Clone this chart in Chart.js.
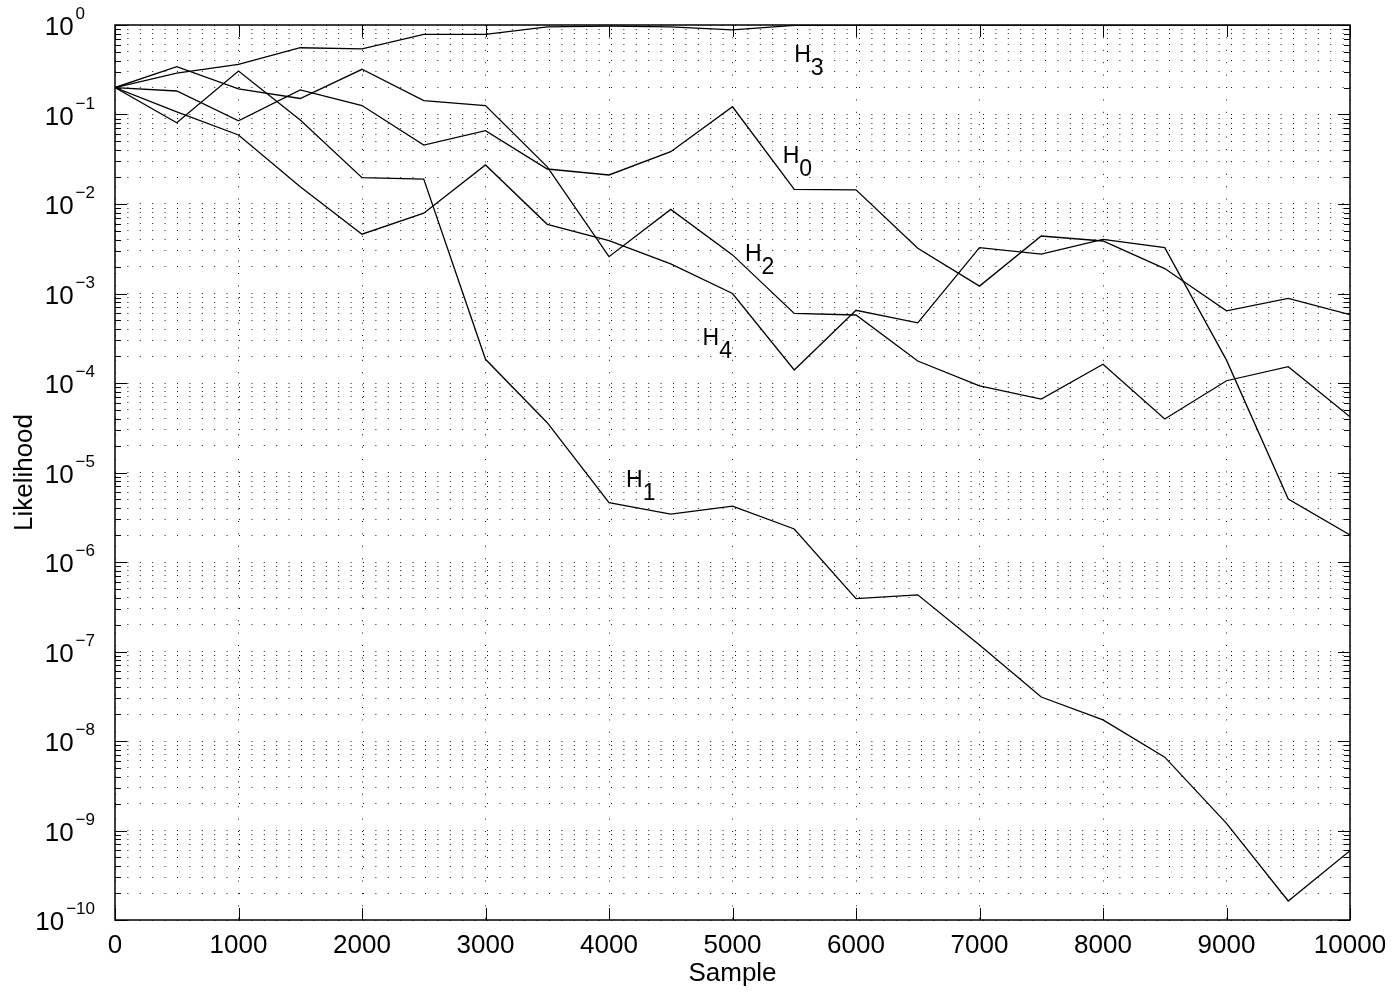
<!DOCTYPE html>
<html lang="en">
<head>
    <meta charset="UTF-8">
    <title>Hypothesis likelihood</title>
    <script src="https://cdn.jsdelivr.net/npm/chart.js"></script>
    <style>
        html, body { margin: 0; padding: 0; background: #fff; }
        #wrap { width: 1396px; height: 993px; }
    </style>
</head>
<body>
    <div id="wrap"><canvas id="likelihoodChart"></canvas></div>

    <script>
        // samples at which the likelihood of each hypothesis was evaluated
        const samples = [0, 500, 1000, 1500, 2000, 2500, 3000, 3500, 4000, 4500, 5000,
                         5500, 6000, 6500, 7000, 7500, 8000, 8500, 9000, 9500, 10000];

        const h0 = [0.2, 0.183, 0.085, 0.188, 0.126, 0.0456, 0.066, 0.0246, 0.0211, 0.0384, 0.122,
                    0.0146, 0.0144, 0.0032, 0.00121, 0.00439, 0.00386, 0.0019, 0.00064, 0.00088, 0.00058];
        const h1 = [0.2, 0.081, 0.306, 0.087, 0.0197, 0.019, 1.84e-4, 3.6e-5, 4.6e-6, 3.43e-6, 4.2e-6,
                    2.34e-6, 3.9e-7, 4.3e-7, 1.18e-7, 3.1e-8, 1.72e-8, 6.6e-9, 1.2e-9, 1.63e-10, 5.95e-10];
        const h2 = [0.2, 0.342, 0.193, 0.151, 0.32, 0.143, 0.126, 0.026, 0.00258, 0.0087, 0.0027,
                    0.0006, 0.000575, 0.000176, 9.3e-5, 6.6e-5, 1.62e-4, 3.96e-5, 1.06e-4, 1.52e-4, 4.2e-5];
        const h3 = [0.2, 0.29, 0.364, 0.557, 0.54, 0.787, 0.787, 0.955, 0.97, 0.955, 0.88,
                    0.99, 1, 1, 1, 1, 1, 1, 1, 1, 1];
        const h4 = [0.2, 0.107, 0.059, 0.0156, 0.0046, 0.0079, 0.0273, 0.00593, 0.0039, 0.00214, 0.001,
                    0.00014, 0.00065, 0.00047, 0.00325, 0.00276, 0.00403, 0.00325, 0.00018, 5.06e-6, 2.0e-6];

        const xTicks = [0, 1000, 2000, 3000, 4000, 5000, 6000, 7000, 8000, 9000, 10000];
        const yExponents = [0, -1, -2, -3, -4, -5, -6, -7, -8, -9, -10];

        // curve names, anchored in data units (sample, likelihood)
        const curveLabels = [
            { name: 'H', sub: '3', x: 5500, y: 0.389 },
            { name: 'H', sub: '0', x: 5406, y: 0.0285 },
            { name: 'H', sub: '2', x: 5101, y: 0.00229 },
            { name: 'H', sub: '4', x: 4758, y: 2.66e-4 },
            { name: 'H', sub: '1', x: 4138, y: 6.94e-6 }
        ];

        const FONT = '"Liberation Sans", Arial, Helvetica, sans-serif';

        function isDecade(v) {
            const l = Math.log10(v);
            return Math.abs(l - Math.round(l)) < 1e-6;
        }

        // box, inward ticks, tick labels, axis titles and curve names
        const axesDecor = {
            id: 'axesDecor',
            afterDraw(chart) {
                const { ctx, chartArea: a, scales: { x, y } } = chart;
                ctx.save();
                ctx.strokeStyle = '#000';
                ctx.lineWidth = 1.5;
                ctx.strokeRect(a.left, a.top, a.right - a.left, a.bottom - a.top);

                ctx.lineWidth = 1;
                ctx.beginPath();
                xTicks.forEach(v => {
                    const px = Math.round(x.getPixelForValue(v)) + 0.5;
                    ctx.moveTo(px, a.bottom); ctx.lineTo(px, a.bottom - 12);
                    ctx.moveTo(px, a.top); ctx.lineTo(px, a.top + 12);
                });
                y.ticks.forEach(t => {
                    const len = isDecade(t.value) ? 12 : 6;
                    const py = Math.round(y.getPixelForValue(t.value)) + 0.5;
                    ctx.moveTo(a.left, py); ctx.lineTo(a.left + len, py);
                    ctx.moveTo(a.right, py); ctx.lineTo(a.right - len, py);
                });
                ctx.stroke();

                ctx.fillStyle = '#000';
                ctx.textBaseline = 'alphabetic';

                // x tick labels
                ctx.font = '26px ' + FONT;
                ctx.textAlign = 'center';
                xTicks.forEach(v => {
                    ctx.fillText(String(v), x.getPixelForValue(v), a.bottom + 33);
                });

                // y tick labels as 10 with a raised exponent
                const supFont = '17px ' + FONT;
                ctx.font = supFont;
                const minSup = ctx.measureText('\u22121').width;
                yExponents.forEach(e => {
                    const py = y.getPixelForValue(Math.pow(10, e));
                    const sup = e < 0 ? '\u2212' + Math.abs(e) : String(e);
                    ctx.font = supFont;
                    const supW = Math.max(ctx.measureText(sup).width, minSup);
                    const right = a.left - 20;
                    ctx.textAlign = 'left';
                    ctx.fillText(sup, right - supW, py - 6);
                    ctx.font = '26px ' + FONT;
                    ctx.textAlign = 'right';
                    ctx.fillText('10', right - supW - 2, py + 10);
                });

                // axis titles
                ctx.font = '26px ' + FONT;
                ctx.textAlign = 'center';
                ctx.fillText('Sample', (a.left + a.right) / 2, 981);
                ctx.save();
                ctx.translate(32, (a.top + a.bottom) / 2);
                ctx.rotate(-Math.PI / 2);
                ctx.fillText('Likelihood', 0, 0);
                ctx.restore();

                // curve names with subscripts
                ctx.font = '23px ' + FONT;
                ctx.textAlign = 'left';
                const hW = ctx.measureText('H').width;
                curveLabels.forEach(l => {
                    const px = x.getPixelForValue(l.x);
                    const py = y.getPixelForValue(l.y);
                    ctx.fillText(l.name, px, py);
                    ctx.fillText(l.sub, px + hW, py + 13);
                });
                ctx.restore();
            }
        };

        function series(values) {
            return {
                data: samples.map((s, i) => ({ x: s, y: values[i] })),
                borderColor: '#000',
                borderWidth: 1.3,
                pointRadius: 0,
                tension: 0,
                fill: false
            };
        }

        const gridStyle = { color: '#1a1a1a', lineWidth: 1, drawTicks: false };
        const dotted = { display: false, dash: [1, 11.4] };

        const ctx = document.getElementById('likelihoodChart').getContext('2d');
        new Chart(ctx, {
            type: 'line',
            data: {
                datasets: [series(h0), series(h1), series(h2), series(h3), series(h4)]
            },
            options: {
                responsive: true,
                maintainAspectRatio: false,
                animation: false,
                layout: { padding: { top: 25, right: 46, left: 0, bottom: 0 } },
                plugins: {
                    legend: { display: false },
                    tooltip: { enabled: false }
                },
                scales: {
                    x: {
                        type: 'linear',
                        min: 0,
                        max: 10000,
                        ticks: { display: false, stepSize: 1000 },
                        grid: gridStyle,
                        border: dotted,
                        afterFit(scale) { scale.height = 73; }
                    },
                    y: {
                        type: 'logarithmic',
                        min: 1e-10,
                        max: 1,
                        ticks: { display: false },
                        grid: gridStyle,
                        border: dotted,
                        afterBuildTicks(scale) {
                            const ticks = [];
                            yExponents.slice().reverse().forEach(e => {
                                for (let m = 1; m <= 9; m++) {
                                    const v = Number((m * Math.pow(10, e)).toPrecision(3));
                                    if (v > 1) break;
                                    ticks.push({ value: v });
                                }
                            });
                            scale.ticks = ticks;
                        },
                        afterFit(scale) { scale.width = 115; }
                    }
                }
            },
            plugins: [axesDecor]
        });
    </script>
</body>
</html>
